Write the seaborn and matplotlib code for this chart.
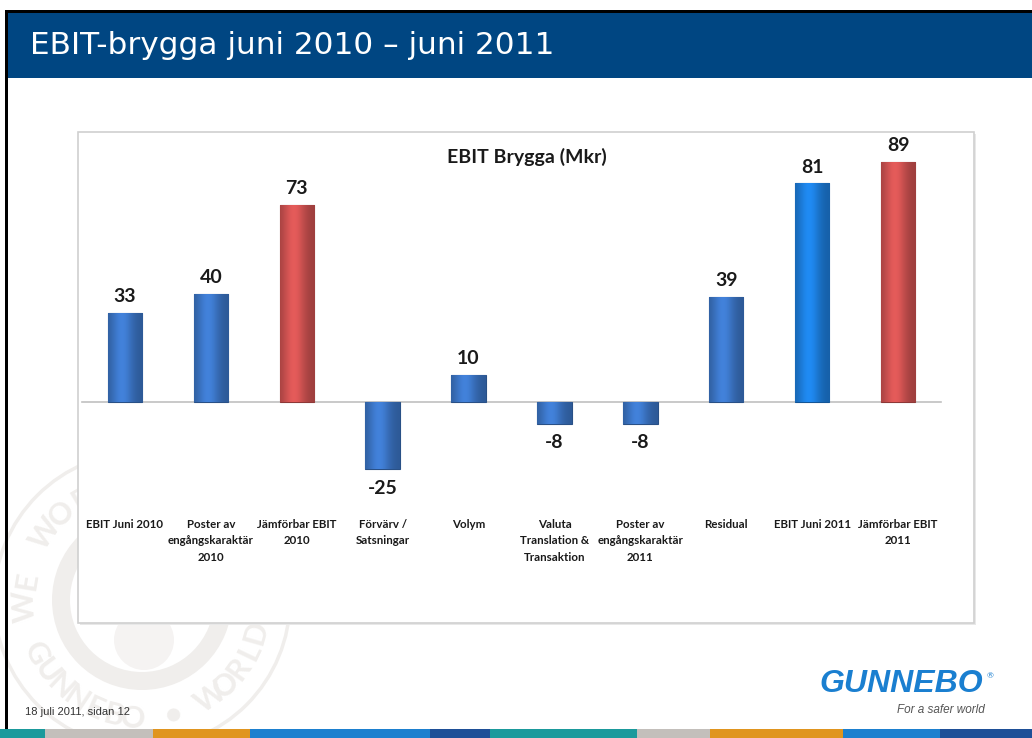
import numpy as np
import matplotlib
matplotlib.use("Agg")
import matplotlib.pyplot as plt
import seaborn as sns
import pandas as pd
from matplotlib.patches import Rectangle, Circle, Wedge
from matplotlib.colors import to_rgb

# ---------------- data ----------------
categories = [
    "EBIT Juni 2010",
    "Poster av\nengångskaraktär\n2010",
    "Jämförbar EBIT\n2010",
    "Förvärv /\nSatsningar",
    "Volym",
    "Valuta\nTranslation &\nTransaktion",
    "Poster av\nengångskaraktär\n2011",
    "Residual",
    "EBIT Juni 2011",
    "Jämförbar EBIT\n2011",
]
values = [33, 40, 73, -25, 10, -8, -8, 39, 81, 89]
bar_colors = ["#3a72c0", "#3a72c0", "#c9504f", "#3a72c0", "#3a72c0",
              "#3a72c0", "#3a72c0", "#3a72c0", "#1c7ad6", "#c9504f"]
slide_title = "EBIT-brygga juni 2010 – juni 2011"
chart_title = "EBIT Brygga (Mkr)"
footer = "18 juli 2011, sidan 12"

# ---------------- style ----------------
sns.set_theme(style="white")
plt.rcParams["font.family"] = ["Lato", "DejaVu Sans"]

W, H = 1032, 738
fig = plt.figure(figsize=(W / 100, H / 100), dpi=100)
fig.patch.set_facecolor("white")

# background axes in pixel coordinates
bg = fig.add_axes([0, 0, 1, 1], zorder=0)
bg.set_xlim(0, W)
bg.set_ylim(H, 0)
bg.axis("off")

# watermark seal
wm = "#f0eeec"
cx, cy = 142, 600
bg.add_patch(Circle((cx, cy), 148, fill=False, ec=wm, lw=2.5, zorder=1))
bg.add_patch(Wedge((cx, cy), 90, 0, 360, width=18, color=wm, lw=0, zorder=1))
bg.add_patch(Circle((cx + 2, cy + 40), 30, color="#f5f3f2", lw=0, zorder=1))
top_txt = "WE WORLD"
for k, ch in enumerate(top_txt):
    ang = np.deg2rad(183 - k * 12.5)
    x = cx + 117 * np.cos(ang)
    y = cy - 117 * np.sin(ang)
    bg.text(x, y, ch, fontsize=22, weight="bold", color=wm, ha="center",
            va="center", rotation=np.rad2deg(ang) - 90, zorder=1)
bot_txt = "GUNNEBO • WORLD"
for k, ch in enumerate(bot_txt):
    ang = np.deg2rad(207 + k * 9.8)
    x = cx + 119 * np.cos(ang)
    y = cy - 119 * np.sin(ang)
    bg.text(x, y, ch, fontsize=22, weight="bold", color=wm, ha="center",
            va="center", rotation=np.rad2deg(ang) + 90, zorder=1)

# slide frame + title bar
bg.add_patch(Rectangle((5, 10), W - 5, 3, color="black", lw=0, zorder=6))
bg.add_patch(Rectangle((5, 10), 3, H - 10, color="black", lw=0, zorder=6))
bg.add_patch(Rectangle((8, 13), W - 8, 65, color="#004682", lw=0, zorder=6))
bg.text(30, 46, slide_title, color="white", fontsize=22.4, va="center",
        ha="left", family=["DejaVu Sans"], zorder=7)

# chart box
bg.add_patch(Rectangle((80, 134), 896, 491, color="#e8e8e8", lw=0, zorder=2))
bg.add_patch(Rectangle((78, 132), 896, 491, fc="white", ec="#d0d0d0", lw=1.2, zorder=3))

# bottom colour stripe
stripe = [(0, 45, "#1b9a9c"), (45, 153, "#c3bfbb"), (153, 250, "#e0951f"),
          (250, 430, "#1d80cf"), (430, 490, "#1e4f97"), (490, 637, "#1b9a9c"),
          (637, 710, "#c3bfbb"), (710, 843, "#e0951f"), (843, 940, "#1d80cf"),
          (940, 1032, "#1e4f97")]
for x0, x1, c in stripe:
    bg.add_patch(Rectangle((x0, 729), x1 - x0, 9, color=c, lw=0, zorder=7))

# footer + logo
bg.text(25, 712, footer, fontsize=8, color="#333333", va="center", ha="left",
        family=["Liberation Sans Narrow", "Liberation Sans", "DejaVu Sans"], zorder=5)
bg.text(983, 684, "GUNNEBO", fontsize=23, weight="bold", style="italic",
        color="#1a7fd0", ha="right", va="center",
        family=["Liberation Sans", "DejaVu Sans"], zorder=5)
bg.text(987, 676, "®", fontsize=6, color="#1a7fd0", ha="left", va="center", zorder=5)
bg.text(985, 710, "For a safer world", fontsize=8.5, style="italic",
        color="#555555", ha="right", va="center",
        family=["Liberation Sans Narrow", "Liberation Sans", "DejaVu Sans"], zorder=5)

# chart title
bg.text(527, 157, chart_title, fontsize=14, weight="bold", color="#1a1a1a",
        ha="center", va="center", zorder=5)

# ---------------- bar chart ----------------
df = pd.DataFrame({"cat": categories, "val": values})
ax = fig.add_axes([82 / W, 1 - 623 / H, 859 / W, (623 - 132) / H], zorder=2)
ax.patch.set_alpha(0)
sns.barplot(data=df, x="cat", y="val", hue="cat", palette=bar_colors,
            legend=False, width=0.4, saturation=1, ax=ax, zorder=3)

# horizontal shading on each bar
for p, c in zip(ax.patches, bar_colors):
    base = np.array(to_rgb(c))
    x0, w = p.get_x(), p.get_width()
    y0, h = p.get_y(), p.get_height()
    t = np.linspace(0, 1, 64)
    f = 0.78 + 0.36 * np.exp(-((t - 0.4) / 0.32) ** 2)
    grad = np.clip(base[None, :] * f[:, None], 0, 1)[None, :, :]
    im = ax.imshow(grad, extent=(x0, x0 + w, min(y0, y0 + h), max(y0, y0 + h)),
                   aspect="auto", zorder=4, interpolation="bilinear")
    im.set_clip_path(p)
    p.set_edgecolor(tuple(base * 0.7))
    p.set_linewidth(0.8)

ax.set_xlim(-0.5, 9.5)
ax.set_ylim(-81.9, 100)
ax.set_xlabel("")
ax.set_ylabel("")
ax.set_yticks([])
for s in ["top", "right", "left"]:
    ax.spines[s].set_visible(False)
ax.spines["bottom"].set_position(("data", 0))
ax.spines["bottom"].set_color("#c0c0c0")
ax.spines["bottom"].set_linewidth(1.2)
ax.spines["bottom"].set_zorder(2)
ax.set_xticks(range(len(categories)))
ax.set_xticklabels(categories, fontsize=8.3, fontweight="bold", color="#1a1a1a",
                   linespacing=1.6)
ax.tick_params(axis="x", length=0, pad=(519 - 402) * 0.72)

for i, v in enumerate(values):
    off = 16 if v >= 0 else -19
    ax.annotate(str(v), (i, v), xytext=(0, off), textcoords="offset pixels",
                ha="center", va="center", fontsize=14, fontweight="bold",
                color="#1a1a1a", zorder=6)

fig.savefig("out.png", dpi=100, facecolor="white")
